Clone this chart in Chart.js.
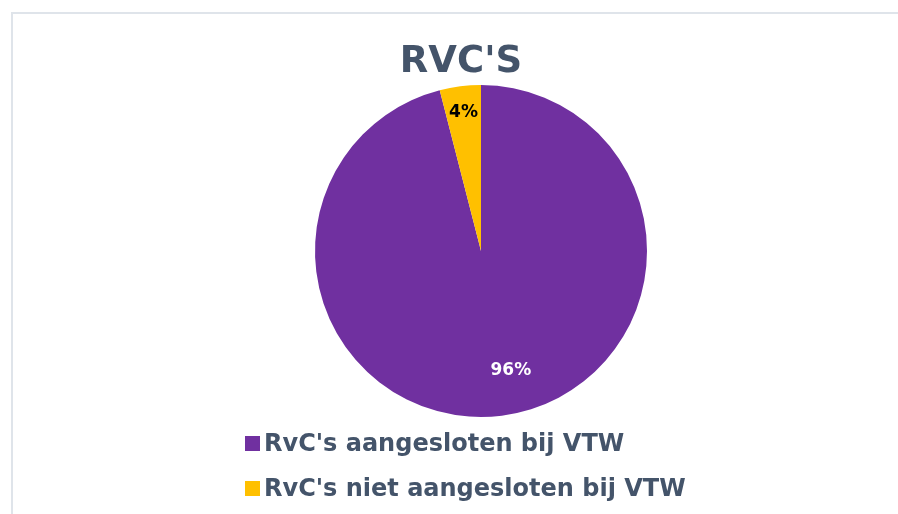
<!DOCTYPE html>
<html>
<head>
<meta charset="utf-8">
<script src="https://cdn.jsdelivr.net/npm/chart.js@4/dist/chart.umd.min.js"></script>
<style>
    html, body { margin: 0; padding: 0; background: #ffffff; overflow: hidden; }
    .frame {
        position: absolute; left: 11px; top: 12px; width: 900px; height: 520px;
        border-top: 2px solid #dfe4ea; border-left: 2px solid #dfe4ea;
    }
    #wrap { position: absolute; left: 0; top: 0; width: 898px; height: 514px; }
</style>
</head>
<body>
<div class="frame"></div>
<div id="wrap"><canvas id="myChart"></canvas></div>
<script>
const TITLE = "RVC'S";
const labels = ["RvC's aangesloten bij VTW", "RvC's niet aangesloten bij VTW"];
const values = [96, 4];
const colors = ['#7030A0', '#FFC000'];
const labelColors = ['#FFFFFF', '#000000'];

const TEXT_COLOR = '#44546A';
const FONT = '"DejaVu Sans", Verdana, sans-serif';

// title and legend drawn by hand so they can sit where the original put them
const decor = {
    id: 'decor',
    afterDraw(chart) {
        const ctx = chart.ctx;
        ctx.save();
        ctx.fillStyle = TEXT_COLOR;
        ctx.font = 'bold 37px ' + FONT;
        ctx.textAlign = 'center';
        ctx.textBaseline = 'alphabetic';
        ctx.fillText(TITLE, 461, 72);

        ctx.font = 'bold 24px ' + FONT;
        ctx.textAlign = 'left';
        chart.data.labels.forEach((lab, i) => {
            const base = 451 + i * 45;
            ctx.fillStyle = chart.data.datasets[0].backgroundColor[i];
            ctx.fillRect(245, base - 15, 15, 15);
            ctx.fillStyle = TEXT_COLOR;
            ctx.fillText(lab, 264, base);
        });

        // percentage labels inside the slices
        const meta = chart.getDatasetMeta(0);
        const total = values.reduce((a, b) => a + b, 0);
        const radial = [0.74, 0.84];
        const shift = [-0.12, 0];
        meta.data.forEach((arc, i) => {
            const p = arc.getProps(['x', 'y', 'startAngle', 'endAngle', 'outerRadius'], true);
            const mid = (p.startAngle + p.endAngle) / 2 + shift[i];
            const r = p.outerRadius * radial[i];
            ctx.font = 'bold 17px ' + FONT;
            ctx.textAlign = 'center';
            ctx.textBaseline = 'middle';
            ctx.fillStyle = labelColors[i];
            ctx.fillText(Math.round(values[i] / total * 100) + '%', p.x + Math.cos(mid) * r, p.y + Math.sin(mid) * r);
        });
        ctx.restore();
    }
};

const myChart = new Chart(document.getElementById('myChart'), {
    type: 'pie',
    data: {
        labels: labels,
        datasets: [
            {
                data: values,
                backgroundColor: colors,
                borderWidth: 0,
                hoverOffset: 0,
            },
        ],
    },
    options: {
        responsive: true,
        maintainAspectRatio: false,
        animation: false,
        layout: {
            padding: { left: 315, right: 251, top: 85, bottom: 97 },
        },
        plugins: {
            legend: { display: false },
            title: { display: false },
            tooltip: { enabled: false },
        },
    },
    plugins: [decor],
});
</script>
</body>
</html>
